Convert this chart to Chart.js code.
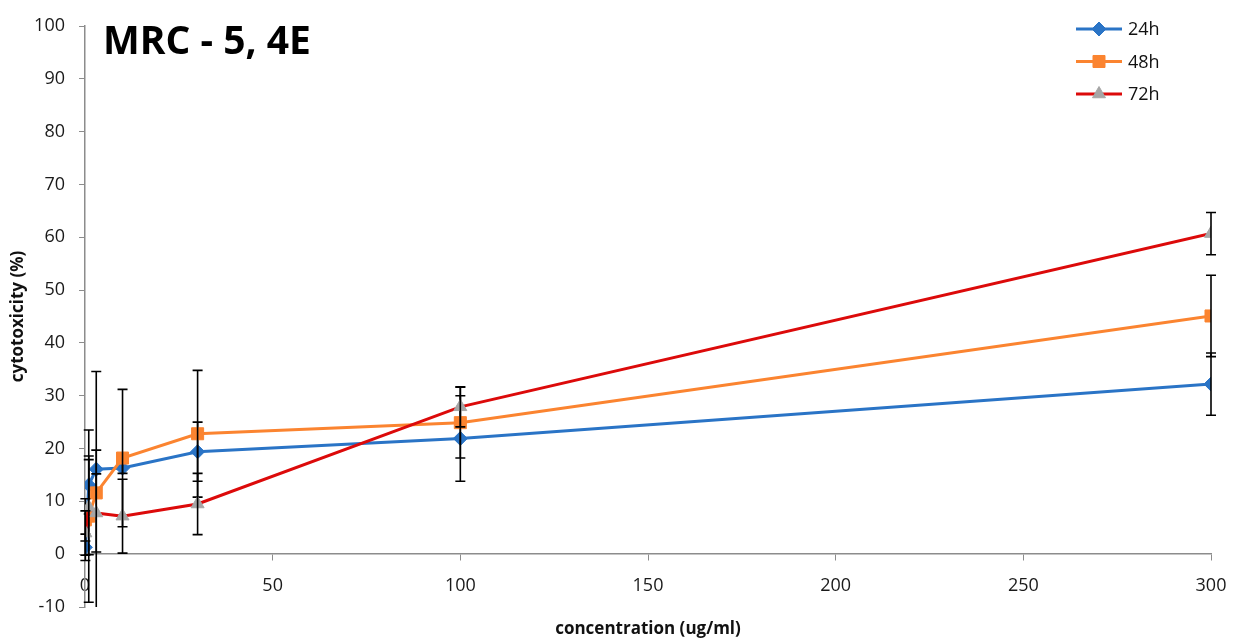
<!DOCTYPE html>
<html>
<head>
<meta charset="utf-8">
<script src="https://cdn.jsdelivr.net/npm/chart.js@4.4.0/dist/chart.umd.min.js"></script>
<style>
  html, body { margin: 0; padding: 0; background: #ffffff; }
  canvas { display: block; }
</style>
</head>
<body>
<canvas id="chart" width="1233" height="641"></canvas>
<script>
// Concentrations tested (ug/ml)
const concentrations = [0.1, 1, 3, 10, 30, 100, 300];

// Mean cytotoxicity (%) and standard deviations per exposure time
const labels = ['24h', '48h', '72h'];
const cyto24 = [1.3, 13.1, 16.1, 16.3, 19.4, 21.9, 32.2];
const sd24   = [2.5, 5.5, 3.6, 1.0, 5.6, 8.1, 5.9];
const cyto48 = [6.5, 7.2, 11.6, 18.2, 22.8, 24.9, 45.1];
const sd48   = [4.0, 16.3, 23.0, 13.0, 12.0, 6.7, 7.7];
const cyto72 = [4.0, 8.9, 7.8, 7.2, 9.5, 27.9, 60.7];
const sd72   = [4.2, 9.0, 7.4, 7.0, 5.8, 3.8, 4.0];

// Axis tick values
const xTickValues = [0, 50, 100, 150, 200, 250, 300];
const yTickValues = [-10, 0, 10, 20, 30, 40, 50, 60, 70, 80, 90, 100];

const chartTitle = 'MRC - 5, 4E';
const xTitle = 'concentration (ug/ml)';
const yTitle = 'cytotoxicity (%)';

const FONT = "'Open Sans', 'DejaVu Sans', sans-serif";
const AXIS_GREY = '#8c8c8c';

function toPoints(values) {
  return concentrations.map((c, i) => ({ x: c, y: values[i] }));
}

function series(label, values, errors, lineColor, markerColor, style, radius, order) {
  return {
    label,
    data: toPoints(values),
    errors,
    borderColor: lineColor,
    backgroundColor: markerColor,
    borderWidth: 3,
    pointStyle: style,
    pointRadius: radius,
    pointHoverRadius: radius,
    pointBackgroundColor: markerColor,
    pointBorderColor: markerColor,
    pointBorderWidth: 1,
    tension: 0,
    fill: false,
    order
  };
}

// Vertical error bars with caps, drawn right after each series
const errorBars = {
  id: 'errorBars',
  afterDatasetDraw(chart, args) {
    const ds = chart.data.datasets[args.index];
    if (!ds.errors) return;
    const { ctx, chartArea, scales } = chart;
    ctx.save();
    ctx.beginPath();
    ctx.rect(chartArea.left - 10, chartArea.top, chartArea.right - chartArea.left + 20, chartArea.bottom - chartArea.top);
    ctx.clip();
    ctx.strokeStyle = '#000000';
    ctx.lineWidth = 1.6;
    ds.data.forEach((p, i) => {
      const e = ds.errors[i];
      const x = scales.x.getPixelForValue(p.x);
      const yTop = scales.y.getPixelForValue(p.y + e);
      const yBot = scales.y.getPixelForValue(p.y - e);
      ctx.beginPath();
      ctx.moveTo(x, yTop); ctx.lineTo(x, yBot);
      ctx.moveTo(x - 5, yTop); ctx.lineTo(x + 5, yTop);
      ctx.moveTo(x - 5, yBot); ctx.lineTo(x + 5, yBot);
      ctx.stroke();
    });
    ctx.restore();
  }
};

// Heading inside the plot and the line+marker legend at top right
const decorations = {
  id: 'decorations',
  afterDraw(chart) {
    const { ctx, chartArea } = chart;
    ctx.save();
    ctx.fillStyle = '#000000';
    ctx.textAlign = 'left';
    ctx.textBaseline = 'middle';
    ctx.font = "bold 39px " + FONT;
    ctx.fillText(chartTitle, chartArea.left + 18, chartArea.top + 17);

    const x0 = chartArea.right - 135;
    chart.data.datasets.forEach((ds, i) => {
      const y = chartArea.top + 3 + i * 32.5;
      ctx.strokeStyle = ds.borderColor;
      ctx.lineWidth = 3;
      ctx.beginPath();
      ctx.moveTo(x0, y); ctx.lineTo(x0 + 46, y);
      ctx.stroke();
      ctx.fillStyle = ds.pointBackgroundColor;
      ctx.strokeStyle = ds.pointBorderColor;
      ctx.lineWidth = 1;
      Chart.helpers.drawPoint(ctx, { pointStyle: ds.pointStyle, radius: ds.pointRadius, rotation: 0, borderWidth: 1 }, x0 + 23, y);
      ctx.fillStyle = '#111111';
      ctx.font = "18px " + FONT;
      ctx.textAlign = 'left';
      ctx.textBaseline = 'middle';
      ctx.fillText(ds.label, x0 + 52, y + 1);
    });
    ctx.restore();
  }
};

new Chart(document.getElementById('chart'), {
  type: 'line',
  data: {
    datasets: [
      series(labels[0], cyto24, sd24, '#2a74c6', '#2a74c6', 'rectRot', 7, 3),
      series(labels[1], cyto48, sd48, '#fb8430', '#fb8430', 'rect', 8.5, 2),
      series(labels[2], cyto72, sd72, '#dc0a0a', '#a6a6a6', 'triangle', 7.5, 1)
    ]
  },
  options: {
    responsive: false,
    animation: false,
    devicePixelRatio: 1,
    layout: { padding: { top: 26, right: 22, bottom: 34, left: 0 } },
    plugins: {
      legend: { display: false },
      tooltip: { enabled: false }
    },
    scales: {
      x: {
        type: 'linear',
        position: { y: 0 },
        min: 0,
        max: 300,
        afterBuildTicks(scale) { scale.ticks = xTickValues.map(v => ({ value: v })); },
        afterFit(scale) { scale.paddingLeft = 0; scale.paddingRight = 0; },
        border: { color: AXIS_GREY, width: 1.5 },
        grid: { drawOnChartArea: false, drawTicks: true, tickLength: 6, color: AXIS_GREY },
        ticks: { font: { family: FONT, size: 18 }, color: '#1a1a1a', padding: 15, maxRotation: 0 },
        title: {
          display: true,
          text: xTitle,
          font: { family: FONT, size: 17, weight: 'bold' },
          color: '#111111',
          padding: { top: 7, bottom: 0 }
        }
      },
      y: {
        type: 'linear',
        position: 'left',
        min: -10,
        max: 100,
        afterBuildTicks(scale) { scale.ticks = yTickValues.map(v => ({ value: v })); },
        afterFit(scale) { scale.width = 85; },
        border: { color: AXIS_GREY, width: 1.5 },
        grid: { drawOnChartArea: false, drawTicks: true, tickLength: 6, color: AXIS_GREY },
        ticks: { font: { family: FONT, size: 18 }, color: '#1a1a1a', padding: 14 },
        title: {
          display: true,
          text: yTitle,
          font: { family: FONT, size: 17, weight: 'bold' },
          color: '#111111',
          padding: { top: 8, bottom: 0 }
        }
      }
    }
  },
  plugins: [errorBars, decorations]
});
</script>
</body>
</html>
